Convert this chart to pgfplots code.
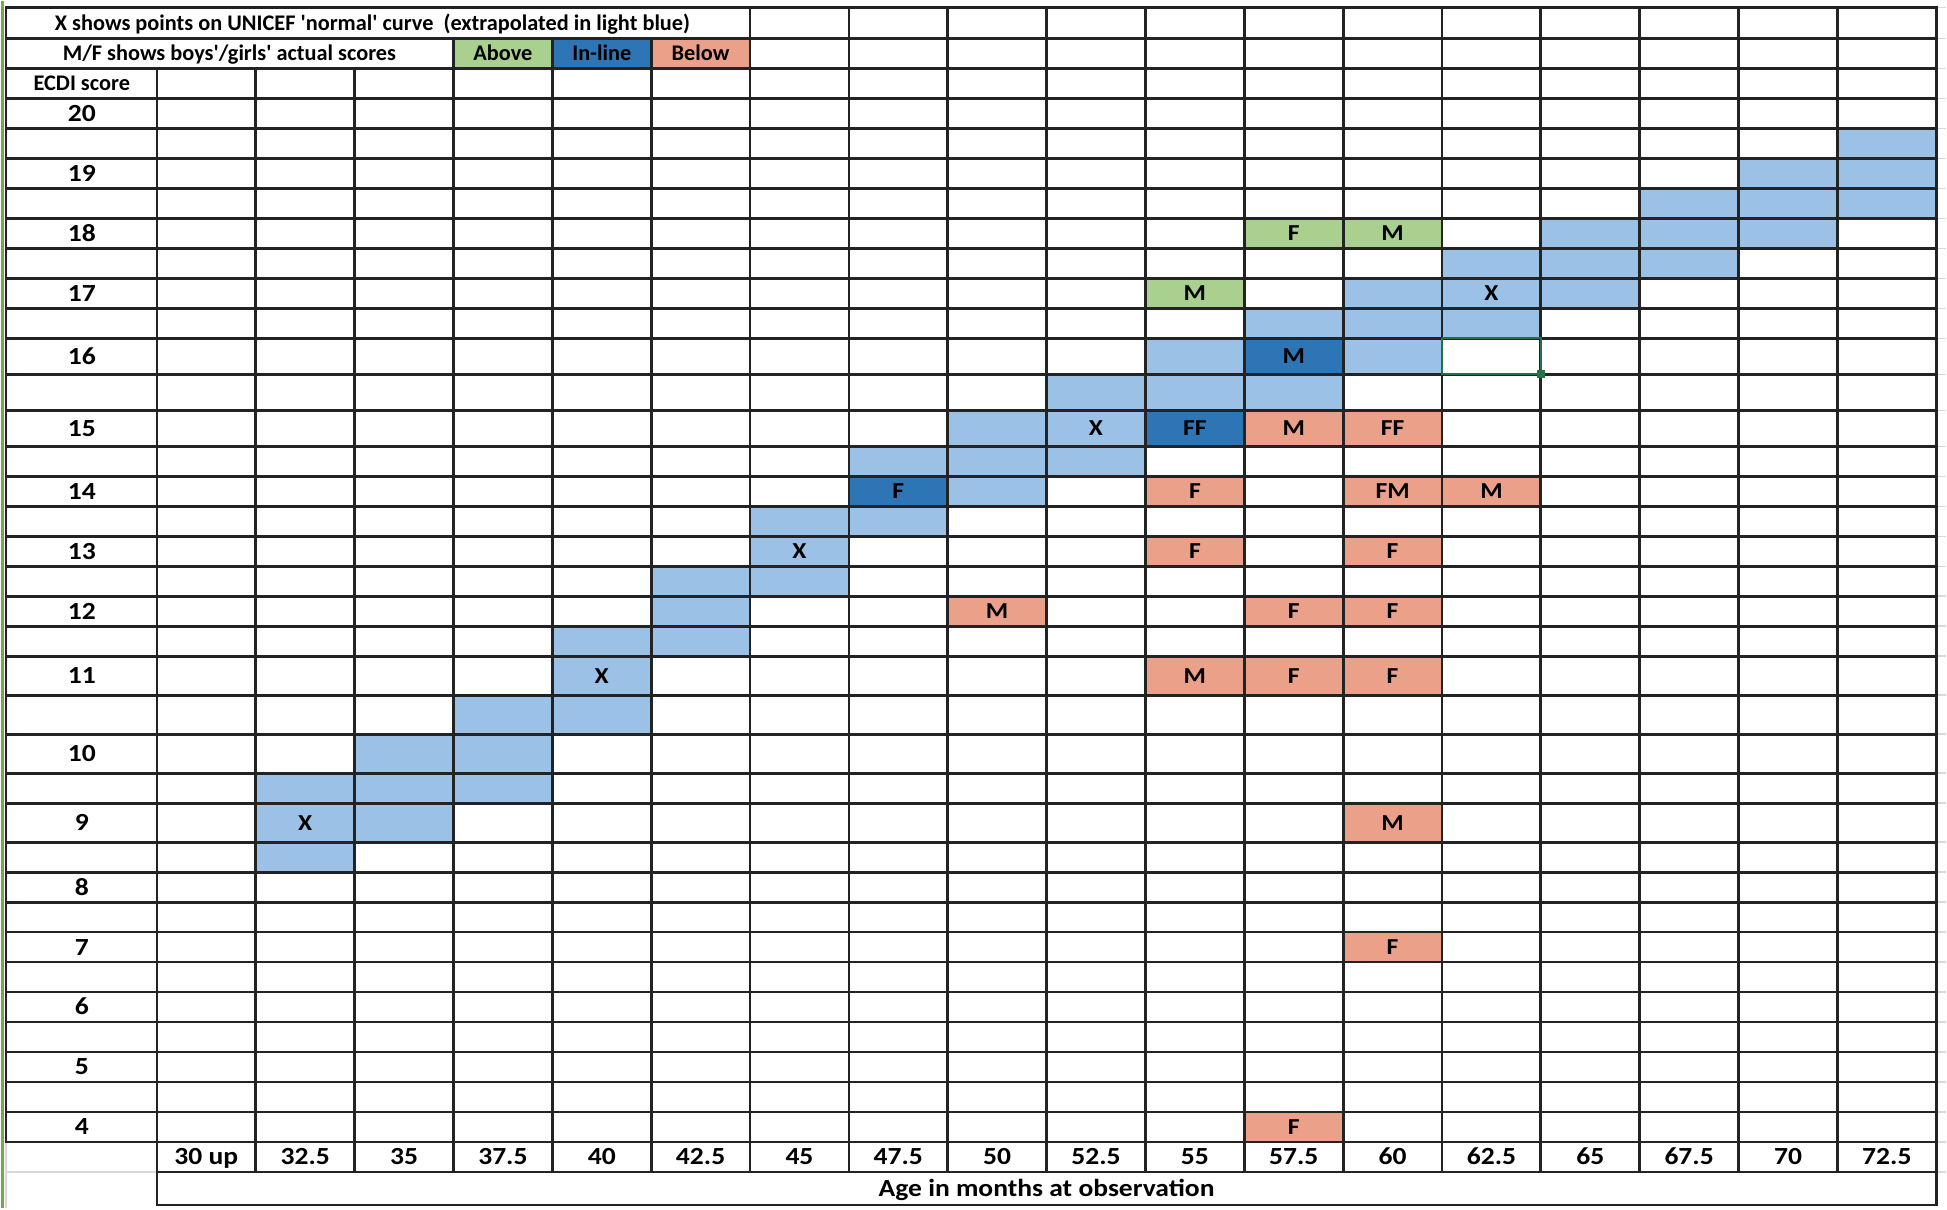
\documentclass[border=0pt]{standalone}
\usepackage{pgfplots}
\pgfplotsset{compat=1.18}
\usepackage{fontspec}
\setmainfont{Carlito}[Ligatures=TeXOff]
\newfontfamily\widefont{Carlito}[FakeStretch=1.12, Ligatures=TeXOff]

\definecolor{lblue}{RGB}{155,194,230}
\definecolor{dblue}{RGB}{46,117,182}
\definecolor{agreen}{RGB}{169,208,142}
\definecolor{salmon}{RGB}{234,160,137}
\definecolor{gridc}{RGB}{35,35,35}
\definecolor{selgreen}{RGB}{33,115,70}
\definecolor{wingreen}{RGB}{112,173,71}

% one spreadsheet cell as a plot mark (1 px of the sheet = 0.2mm)
\pgfdeclareplotmark{cellA}{\pgfpathrectanglecorners{\pgfpoint{-9.89mm}{-3mm}}{\pgfpoint{9.89mm}{3mm}}\pgfusepathqfill}
\pgfdeclareplotmark{cellB}{\pgfpathrectanglecorners{\pgfpoint{-9.89mm}{-3.6mm}}{\pgfpoint{9.89mm}{3.6mm}}\pgfusepathqfill}
\pgfdeclareplotmark{cellC}{\pgfpathrectanglecorners{\pgfpoint{-9.89mm}{-3.9mm}}{\pgfpoint{9.89mm}{3.9mm}}\pgfusepathqfill}

\pgfplotsset{
  gridl/.style={draw=gridc, line width=0.55mm, line cap=rect},
  faint/.style={draw=black!15, line width=0.3mm},
}
\tikzset{
  hdr/.style={font=\fontsize{12.7}{15}\selectfont\bfseries, text height=8.2pt},
  num/.style={font=\widefont\fontsize{14}{16}\selectfont\bfseries, text height=9pt},
  let/.style={font=\widefont\fontsize{13}{15}\selectfont\bfseries, text height=8.4pt},
}

\begin{document}
\begin{tikzpicture}[every node/.style={inner sep=0pt, anchor=center, text depth=0pt}]
\begin{axis}[
  scale only axis, width=389.4mm, height=241.4mm,
  xmin=24.78134, xmax=74.00278,
  enlargelimits=false, hide axis, clip=false, clip marker paths=true,
  % rows of the sheet are not all the same height
  y coord trafo/.code={\pgfmathparse{-(ifthenelse(#1>16.25, 337+(16.25-#1)*60,
      ifthenelse(#1>14.75, 337+(16.25-#1)*72,
      ifthenelse(#1>11.25, 445+(14.75-#1)*60,
      ifthenelse(#1>9.75, 655+(11.25-#1)*78,
      ifthenelse(#1>9.25, 772+(9.75-#1)*60,
      ifthenelse(#1>8.75, 802+(9.25-#1)*78, 841+(8.75-#1)*60)))))))}},
]

% background
\addplot[fill=white, draw=none] coordinates {(24.78134,2.65) (74.00278,2.65) (74.00278,21.8667) (24.78134,21.8667)};

% UNICEF normal band (light blue)
\addplot[fill=lblue, draw=none] coordinates {
 (31.25,9.75) (33.75,9.75) (33.75,10.25) (36.25,10.25) (36.25,10.75) (38.75,10.75)
 (38.75,11.75) (41.25,11.75) (41.25,12.75) (43.75,12.75) (43.75,13.75) (46.25,13.75)
 (46.25,14.75) (48.75,14.75) (48.75,15.25) (51.25,15.25) (51.25,15.75) (53.75,15.75)
 (53.75,16.25) (56.25,16.25) (56.25,16.75) (58.75,16.75) (58.75,17.25) (61.25,17.25)
 (61.25,17.75) (63.75,17.75) (63.75,18.25) (66.25,18.25) (66.25,18.75) (68.75,18.75)
 (68.75,19.25) (71.25,19.25) (71.25,19.75) (73.75,19.75)
 (73.75,18.25) (71.25,18.25) (71.25,17.75) (68.75,17.75) (68.75,17.25) (66.25,17.25)
 (66.25,16.75) (63.75,16.75) (63.75,16.25) (61.25,16.25) (61.25,15.75) (58.75,15.75)
 (58.75,15.25) (56.25,15.25) (56.25,14.75) (53.75,14.75) (53.75,14.25) (51.25,14.25)
 (51.25,13.75) (48.75,13.75) (48.75,13.25) (46.25,13.25) (46.25,12.25) (43.75,12.25)
 (43.75,11.25) (41.25,11.25) (41.25,10.25) (38.75,10.25) (38.75,9.25) (36.25,9.25)
 (36.25,8.75) (33.75,8.75) (33.75,8.25) (31.25,8.25)
};

% Above (green)
\addplot[only marks, mark=cellA, color=agreen, mark options={draw=none, fill=agreen}] table[x=age, y=score] {
age score
37.5 21
55 17
57.5 18
60 18
};
% In-line (dark blue)
\addplot[only marks, mark=cellA, color=dblue, mark options={draw=none, fill=dblue}] table[x=age, y=score] {
age score
40 21
47.5 14
};
\addplot[only marks, mark=cellB, color=dblue, mark options={draw=none, fill=dblue}] table[x=age, y=score] {
age score
55 15
57.5 16
};
% Below (salmon)
\addplot[only marks, mark=cellA, color=salmon, mark options={draw=none, fill=salmon}] table[x=age, y=score] {
age score
42.5 21
50 12
55 14
55 13
57.5 12
57.5 4
60 14
60 13
60 12
60 7
62.5 14
};
\addplot[only marks, mark=cellB, color=salmon, mark options={draw=none, fill=salmon}] table[x=age, y=score] {
age score
57.5 15
60 15
};
\addplot[only marks, mark=cellC, color=salmon, mark options={draw=none, fill=salmon}] table[x=age, y=score] {
age score
55 11
57.5 11
60 11
60 9
};

% faint sheet gridlines outside the table
\pgfplotsinvokeforeach{21.7667,21.25}{\addplot[faint] coordinates {(73.75,#1) (74.00278,#1)};}
\pgfplotsinvokeforeach{20.75,20.25,...,3.75}{\addplot[faint] coordinates {(73.75,#1) (74.00278,#1)};}
\addplot[faint] coordinates {(73.75,3.25) (74.00278,3.25)};
\addplot[faint] coordinates {(24.933,3.25) (28.75,3.25)};
\addplot[faint] coordinates {(24.933,3.75) (24.933,2.65)};

% table borders: horizontal
\pgfplotsinvokeforeach{21.7667,21.25}{\addplot[gridl] coordinates {(24.933,#1) (73.75,#1)};}
\pgfplotsinvokeforeach{20.75,20.25,...,3.75}{\addplot[gridl] coordinates {(24.933,#1) (73.75,#1)};}
\addplot[gridl] coordinates {(28.75,3.25) (73.75,3.25)};
\addplot[gridl] coordinates {(28.75,2.7) (73.75,2.7)};
% vertical
\addplot[gridl] coordinates {(24.933,21.7667) (24.933,3.75)};
\addplot[gridl] coordinates {(28.75,20.75) (28.75,2.7)};
\pgfplotsinvokeforeach{31.25,33.75}{\addplot[gridl] coordinates {(#1,20.75) (#1,3.25)};}
\pgfplotsinvokeforeach{36.25,38.75,41.25}{\addplot[gridl] coordinates {(#1,21.25) (#1,3.25)};}
\pgfplotsinvokeforeach{43.75,46.25,...,71.25}{\addplot[gridl] coordinates {(#1,21.7667) (#1,3.25)};}
\addplot[gridl] coordinates {(73.75,21.7667) (73.75,2.7)};

% selected cell
\addplot[draw=selgreen, line width=0.45mm] coordinates {(61.25,16.25) (63.75,16.25) (63.75,15.75) (61.25,15.75) (61.25,16.25)};
\addplot[only marks, mark=square*, mark size=0.7mm, color=selgreen] coordinates {(63.75,15.75)};
% window edge
\addplot[draw=wingreen, line width=0.6mm] coordinates {(24.832,2.65) (24.832,21.8667)};

% cell contents
\addplot[only marks, mark=none, nodes near coords, nodes near coords align={center},
  every node near coord/.append style={let},
  point meta=explicit symbolic] table[x=age, y=score, meta=lab] {
age score lab
32.5 9 X
40 11 X
45 13 X
52.5 15 X
62.5 17 X
47.5 14 F
55 15 FF
57.5 16 M
55 17 M
57.5 18 F
60 18 M
50 12 M
55 14 F
55 13 F
55 11 M
57.5 15 M
57.5 12 F
57.5 11 F
57.5 4 F
60 15 FF
60 14 FM
60 13 F
60 12 F
60 11 F
60 9 M
60 7 F
62.5 14 M
};

% headers and labels
\node[hdr] at (axis cs:34.2,21.5) {X shows points on UNICEF 'normal' curve\ \ (extrapolated in light blue)};
\node[hdr] at (axis cs:30.583,21) {M/F shows boys'/girls' actual scores};
\node[hdr] at (axis cs:37.5,21) {Above};
\node[hdr] at (axis cs:40,21) {In-line};
\node[hdr] at (axis cs:42.5,21) {Below};
\node[hdr] at (axis cs:26.85,20.5) {ECDI score};
\pgfplotsinvokeforeach{4,...,20}{\node[num] at (axis cs:26.85,#1) {#1};}
\node[num] at (axis cs:30,3.5) {30 up};
\pgfplotsinvokeforeach{32.5,35,37.5,40,42.5,45,47.5,50,52.5,55,57.5,60,62.5,65,67.5,70,72.5}{\node[num] at (axis cs:#1,3.5) {#1};}
\node[num] at (axis cs:51.25,2.967) {Age in months at observation};

\end{axis}
\end{tikzpicture}
\end{document}
